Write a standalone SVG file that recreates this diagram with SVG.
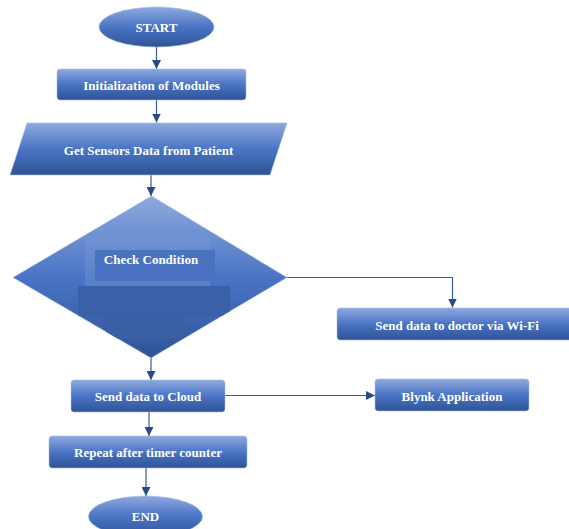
<svg xmlns="http://www.w3.org/2000/svg" width="569" height="529" viewBox="0 0 569 529">
<defs>
<linearGradient id="g" x1="0" y1="0" x2="0" y2="1">
<stop offset="0" stop-color="#8eaadd"/>
<stop offset="0.5" stop-color="#4a74c5"/>
<stop offset="1" stop-color="#2f5395"/>
</linearGradient>
<clipPath id="dc">
<polygon points="151.5,196 287,277.5 151,358 13,277.5"/>
</clipPath>
<marker id="ah" viewBox="0 0 10 10" refX="10" refY="5" markerWidth="9" markerHeight="9" markerUnits="userSpaceOnUse" orient="auto">
<path d="M0,0 L10,5 L0,10 Z" fill="#2b4a86"/>
</marker>
<style>
.n{fill:url(#g);stroke:#a9bde6;stroke-width:0.6}
.t{font-family:"Liberation Serif","Times New Roman",serif;font-weight:bold;font-size:13px;fill:#ffffff;text-anchor:middle;dominant-baseline:central}
.c{fill:none;stroke:#3b5a96;stroke-width:1.2;marker-end:url(#ah)}
</style>
</defs>
<g id="connectors">
<path class="c" d="M156.5,47 V69"/>
<path class="c" d="M156.5,100 V122.5"/>
<path class="c" d="M151,175 V196"/>
<path class="c" d="M287,277.5 H452.5 V307.5"/>
<path class="c" d="M151,358 V380"/>
<path class="c" d="M225,395.5 H375"/>
<path class="c" d="M149,412 V436"/>
<path class="c" d="M146,468 V496"/>
</g>
<g id="start">
<ellipse class="n" cx="156.5" cy="27" rx="57.5" ry="20"/>
<text class="t" x="156.5" y="27.5">START</text>
</g>
<g id="init">
<rect class="n" x="57" y="69" width="189" height="31" rx="3"/>
<text class="t" x="151.5" y="85">Initialization of Modules</text>
</g>
<g id="getdata">
<polygon class="n" points="27,123 287,123 270,175 10,175"/>
<text class="t" x="148.5" y="150">Get Sensors Data from Patient</text>
</g>
<g id="check">
<polygon class="n" points="151.5,196 287,277.5 151,358 13,277.5"/>
<g clip-path="url(#dc)">
<rect x="85" y="237" width="125" height="50" fill="#7b9ad6" opacity="0.35"/>
<rect x="95" y="250" width="120" height="31" fill="#4a72c1"/>
<rect x="78" y="286" width="152" height="30" fill="#3a61a8"/>
<rect x="106" y="315" width="77" height="24" fill="#3a5fa4"/>
</g>
<text class="t" x="151" y="259">Check Condition</text>
</g>
<g id="wifi">
<rect class="n" x="337" y="308" width="236" height="32" rx="3"/>
<text class="t" x="457" y="325">Send data to doctor via Wi-Fi</text>
</g>
<g id="cloud">
<rect class="n" x="71" y="380" width="154" height="32" rx="3"/>
<text class="t" x="148" y="396.5">Send data to Cloud</text>
</g>
<g id="blynk">
<rect class="n" x="375" y="379" width="154" height="32" rx="3"/>
<text class="t" x="452" y="396">Blynk Application</text>
</g>
<g id="repeat">
<rect class="n" x="49" y="436" width="198" height="32" rx="3"/>
<text class="t" x="148" y="452.5">Repeat after timer counter</text>
</g>
<g id="end">
<ellipse class="n" cx="145.5" cy="516.5" rx="57" ry="20.5"/>
<text class="t" x="145.5" y="516.5">END</text>
</g>
</svg>
